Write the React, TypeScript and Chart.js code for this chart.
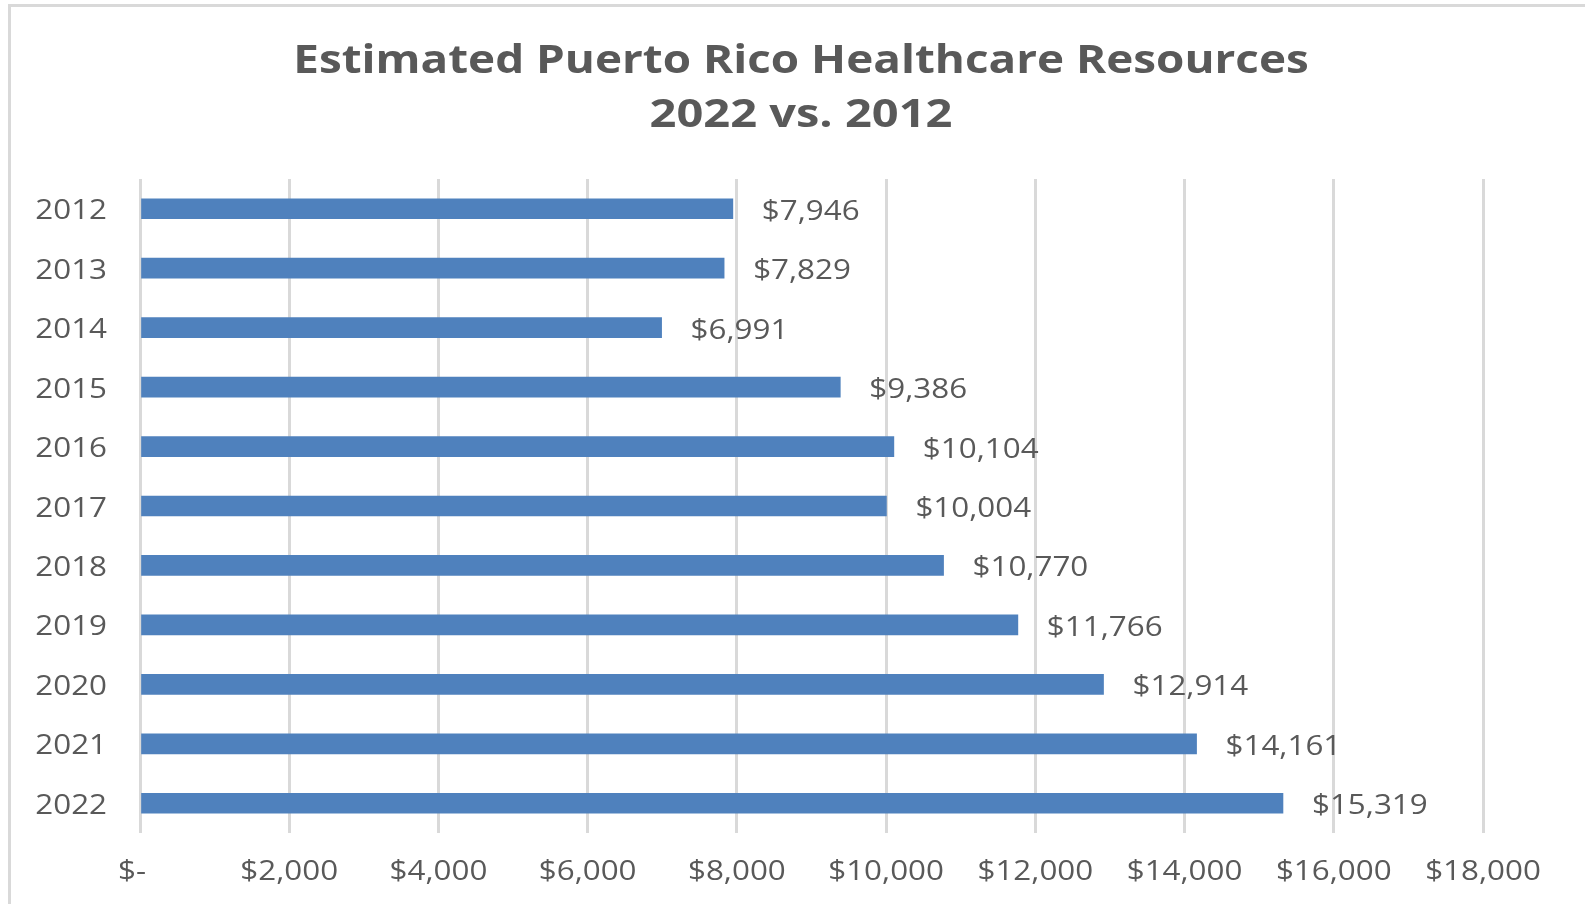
import React, { useEffect, useRef } from "react";
import { Chart, registerables } from "chart.js";

Chart.register(...registerables);

const titleLines = ["Estimated Puerto Rico Healthcare Resources", "2022 vs. 2012"];
const years = ["2012", "2013", "2014", "2015", "2016", "2017", "2018", "2019", "2020", "2021", "2022"];
const values = [7946, 7829, 6991, 9386, 10104, 10004, 10770, 11766, 12914, 14161, 15319];
const xMin = 0;
const xMax = 18000;
const xStep = 2000;

const FONT = "'Open Sans', sans-serif";
const TEXT = "#595959";
const STRETCH = 1.12;
const TITLE_STRETCH = 1.175;

const fmt = (v: number) => (v === 0 ? "$-" : "$" + v.toLocaleString("en-US"));

function drawStretched(
  ctx: CanvasRenderingContext2D,
  text: string,
  x: number,
  y: number,
  align: "left" | "right" | "center",
  stretch: number
) {
  ctx.save();
  ctx.translate(x, y);
  ctx.scale(stretch, 1);
  ctx.textAlign = align;
  ctx.textBaseline = "alphabetic";
  ctx.fillText(text, 0, 0);
  ctx.restore();
}

export default function App() {
  const ref = useRef<HTMLCanvasElement>(null);
  useEffect(() => {
    if (!ref.current) return;
    const textPlugin = {
      id: "customText",
      afterDraw(chart: any) {
        const ctx: CanvasRenderingContext2D = chart.ctx;
        ctx.save();
        ctx.fillStyle = TEXT;
        // title
        ctx.font = `bold 39px ${FONT}`;
        drawStretched(ctx, titleLines[0], 801, 73, "center", TITLE_STRETCH);
        ctx.font = `bold 40px ${FONT}`;
        drawStretched(ctx, titleLines[1], 801, 127, "center", TITLE_STRETCH);
        // axis labels
        ctx.font = `28px ${FONT}`;
        const xs = chart.scales.x;
        xs.ticks.forEach((t: any, i: number) => {
          const px = xs.getPixelForTick(i) - (t.value === 0 ? 8 : 0);
          drawStretched(ctx, fmt(t.value), px, 880, "center", STRETCH);
        });
        const ys = chart.scales.y;
        ys.ticks.forEach((_t: any, i: number) => {
          drawStretched(ctx, String(chart.data.labels[i]), 107, ys.getPixelForTick(i) + 10.5, "right", STRETCH);
        });
        // value labels
        const meta = chart.getDatasetMeta(0);
        meta.data.forEach((bar: any, i: number) => {
          drawStretched(ctx, fmt(values[i]), bar.x + 29, bar.y + 11, "left", STRETCH);
        });
        ctx.restore();
      },
    };
    const chart = new Chart(ref.current, {
      type: "bar",
      data: {
        labels: years,
        datasets: [
          {
            data: values,
            backgroundColor: "#4f81bd",
            borderWidth: 0,
            barThickness: 20,
          },
        ],
      },
      options: {
        indexAxis: "y",
        animation: false,
        responsive: false,
        layout: { padding: { left: 0, right: 102, top: 179, bottom: 0 } },
        plugins: {
          legend: { display: false },
          title: { display: false },
          tooltip: { enabled: false },
        },
        scales: {
          x: {
            min: xMin,
            max: xMax,
            border: { display: false },
            grid: { color: "#d9d9d9", lineWidth: 3, drawTicks: false },
            ticks: {
              display: false,
              stepSize: xStep,
            },
            afterFit: (s: any) => {
              s.height = 71;
            },
          },
          y: {
            border: { display: false },
            grid: { display: false, drawTicks: false },
            ticks: { display: false },
            afterFit: (s: any) => {
              s.width = 140;
            },
          },
        },
      },
      plugins: [textPlugin],
    });
    return () => chart.destroy();
  }, []);

  return (
    <div
      style={{
        position: "fixed",
        left: 0,
        top: 0,
        width: 1585,
        height: 904,
        overflow: "hidden",
        background: "#fff",
      }}
    >
      <div
        style={{
          position: "absolute",
          left: 8,
          top: 4,
          width: 1640,
          height: 960,
          border: "3px solid #d9d9d9",
          boxSizing: "border-box",
        }}
      />
      <canvas
        ref={ref}
        width={1585}
        height={904}
        style={{ position: "absolute", left: 0, top: 0, width: 1585, height: 904 }}
      />
    </div>
  );
}
